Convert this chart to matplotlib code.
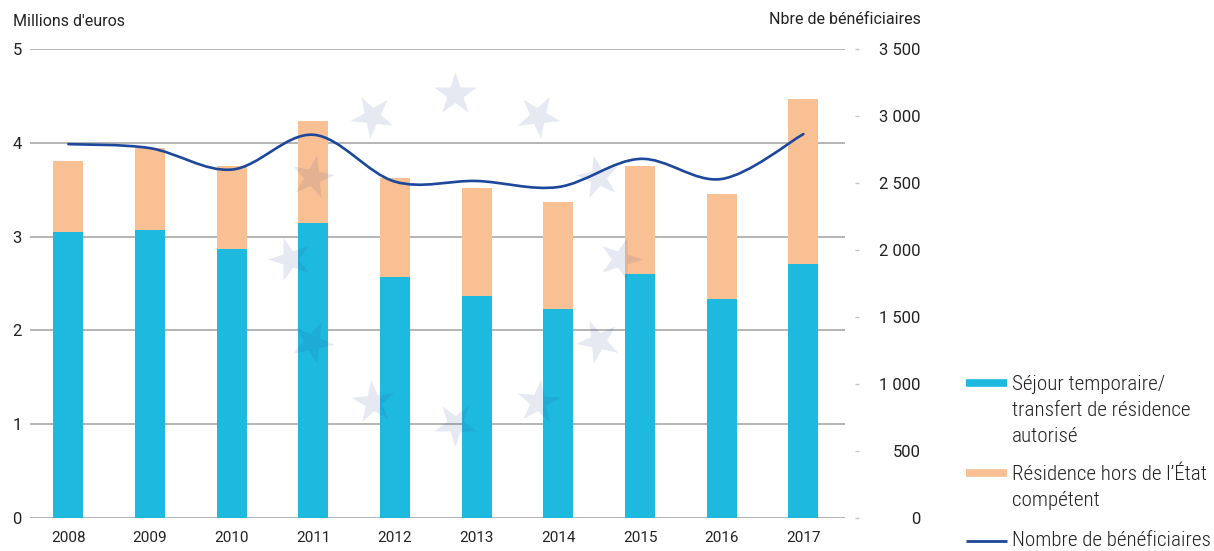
import numpy as np
import matplotlib
matplotlib.use("Agg")
import matplotlib.pyplot as plt
from matplotlib import font_manager as fm
from matplotlib.path import Path
from matplotlib.patches import PathPatch
from matplotlib.lines import Line2D
from matplotlib.markers import MarkerStyle

YEARS = ["2008", "2009", "2010", "2011", "2012", "2013", "2014", "2015", "2016", "2017"]
SEJOUR = [3.05, 3.07, 2.87, 3.145, 2.57, 2.37, 2.23, 2.60, 2.335, 2.71]          # millions d'euros
HORS_ETAT = [0.755, 0.87, 0.883, 1.087, 1.055, 1.148, 1.139, 1.153, 1.119, 1.757]
BENEF = [2790, 2760, 2600, 2860, 2510, 2515, 2470, 2680, 2530, 2865]               # nbre de beneficiaires
LEFT_TICKS = [0, 1, 2, 3, 4, 5]
RIGHT_TICKS = [0, 500, 1000, 1500, 2000, 2500, 3000, 3500]
LEGEND = [("Séjour temporaire/\ntransfert de résidence\nautorisé", "bar1"),
          ("Résidence hors de l’État\ncompétent", "bar2"),
          ("Nombre de bénéficiaires", "line")]

CYAN, PEACH, NAVY = "#1DB9DE", "#F9C193", "#1D479A"
GRID, TXT = "#A8A8A8", "#222222"
W, H = 1214, 551


def pick_font(names, default):
    for n in names:
        try:
            fm.findfont(fm.FontProperties(family=n), fallback_to_default=False)
            return n
        except ValueError:
            pass
    return default


BASE = pick_font(["Roboto"], "DejaVu Sans")
NARROW = pick_font(["Roboto Condensed", "Liberation Sans Narrow"], None)
plt.rcParams["font.family"] = [BASE, "DejaVu Sans"]
plt.rcParams["text.color"] = TXT


def smooth_path(xs, ys):
    # catmull-rom -> cubic bezier, like a spreadsheet "smoothed line"
    p = np.column_stack([xs, ys]).astype(float)
    pp = np.vstack([p[0], p, p[-1]])
    verts, codes = [p[0]], [Path.MOVETO]
    for i in range(len(p) - 1):
        p0, p1, p2, p3 = pp[i], pp[i + 1], pp[i + 2], pp[i + 3]
        verts += [p1 + (p2 - p0) / 6, p2 - (p3 - p1) / 6, p2]
        codes += [Path.CURVE4] * 3
    return Path(verts, codes)


fig = plt.figure(figsize=(W / 100, H / 100), dpi=100)
ax = fig.add_axes([30 / W, 1 - 518 / H, 815 / W, 469 / H])
x = np.arange(len(YEARS))

ax.bar(x, SEJOUR, width=0.37, color=CYAN, zorder=2)
ax.bar(x, HORS_ETAT, width=0.37, bottom=SEJOUR, color=PEACH, zorder=2)
ax.set_xlim(-0.47, 9.51)
ax.set_ylim(0, 5)
ax.set_yticks(LEFT_TICKS)
ax.set_xticks(x, YEARS)
ax.yaxis.grid(True, color=GRID, lw=1.2)
ax.set_axisbelow(True)
for s in ax.spines.values():
    s.set_visible(False)
ax.tick_params(axis="y", length=0, pad=6, labelsize=12, labelcolor=TXT)
ax.tick_params(axis="x", length=0, pad=9, labelsize=11, labelcolor=TXT)

ax2 = ax.twinx()
ax2.set_ylim(0, 3500)
ax2.set_yticks(RIGHT_TICKS, [f"{v:,}".replace(",", " ") for v in RIGHT_TICKS])
for s in ax2.spines.values():
    s.set_visible(False)
ax2.spines["right"].set_position(("outward", 7.5))
ax2.tick_params(axis="y", length=3, width=1, color="#C4C4C4", pad=44, labelsize=12, labelcolor=TXT)
for t in ax2.get_yticklabels():
    t.set_horizontalalignment("right")
ax2.add_patch(PathPatch(smooth_path(x, BENEF), fill=False, edgecolor=NAVY, lw=1.9,
                        capstyle="round", zorder=3))
ax2.set_zorder(2)

# faint EU stars behind the line
sa = fig.add_axes([0, 0, 1, 1], zorder=1)
sa.set_xlim(0, W); sa.set_ylim(H, 0); sa.axis("off")
ang = np.deg2rad(np.arange(12) * 30)
for a in ang:
    sa.scatter(455 + 165 * np.sin(a), 259 - 165 * np.cos(a), s=1050, color="#283F8F",
               alpha=0.11, linewidths=0, marker=MarkerStyle("*").rotated(deg=-np.rad2deg(a)))

fig.text(13 / W, 1 - 22 / H, "Millions d'euros", fontsize=11.5, ha="left", va="center")
fig.text(921 / W, 1 - 19 / H, "Nbre de bénéficiaires", fontsize=11.5, ha="right", va="center")

# legend, drawn by hand so the key sits on the first line of each label
lfam = [NARROW, BASE] if NARROW else [BASE]
firsts, pitch = [385, 475, 541], 25.5
texts = []
for (label, kind), y0 in zip(LEGEND, firsts):
    col = {"bar1": CYAN, "bar2": PEACH, "line": NAVY}[kind]
    lw = 2 if kind == "line" else 5.5
    yk = y0 - 2 if kind != "line" else y0
    fig.add_artist(Line2D([966 / W, 1007 / W], [1 - yk / H] * 2, color=col, lw=lw,
                          solid_capstyle="butt", transform=fig.transFigure))
    for k, line in enumerate(label.split("\n")):
        texts.append(fig.text(1012 / W, 1 - (y0 + k * pitch) / H, line, fontsize=16,
                              family=lfam, weight="light", ha="left", va="center", color=TXT))

# shrink legend text until the longest line ends where the reference's does
r = fig.canvas.get_renderer()
widest = max(t.get_window_extent(r).width for t in texts)
if widest > 199:
    for t in texts:
        t.set_fontsize(16 * 199 / widest)

fig.savefig("out.png", dpi=100)
